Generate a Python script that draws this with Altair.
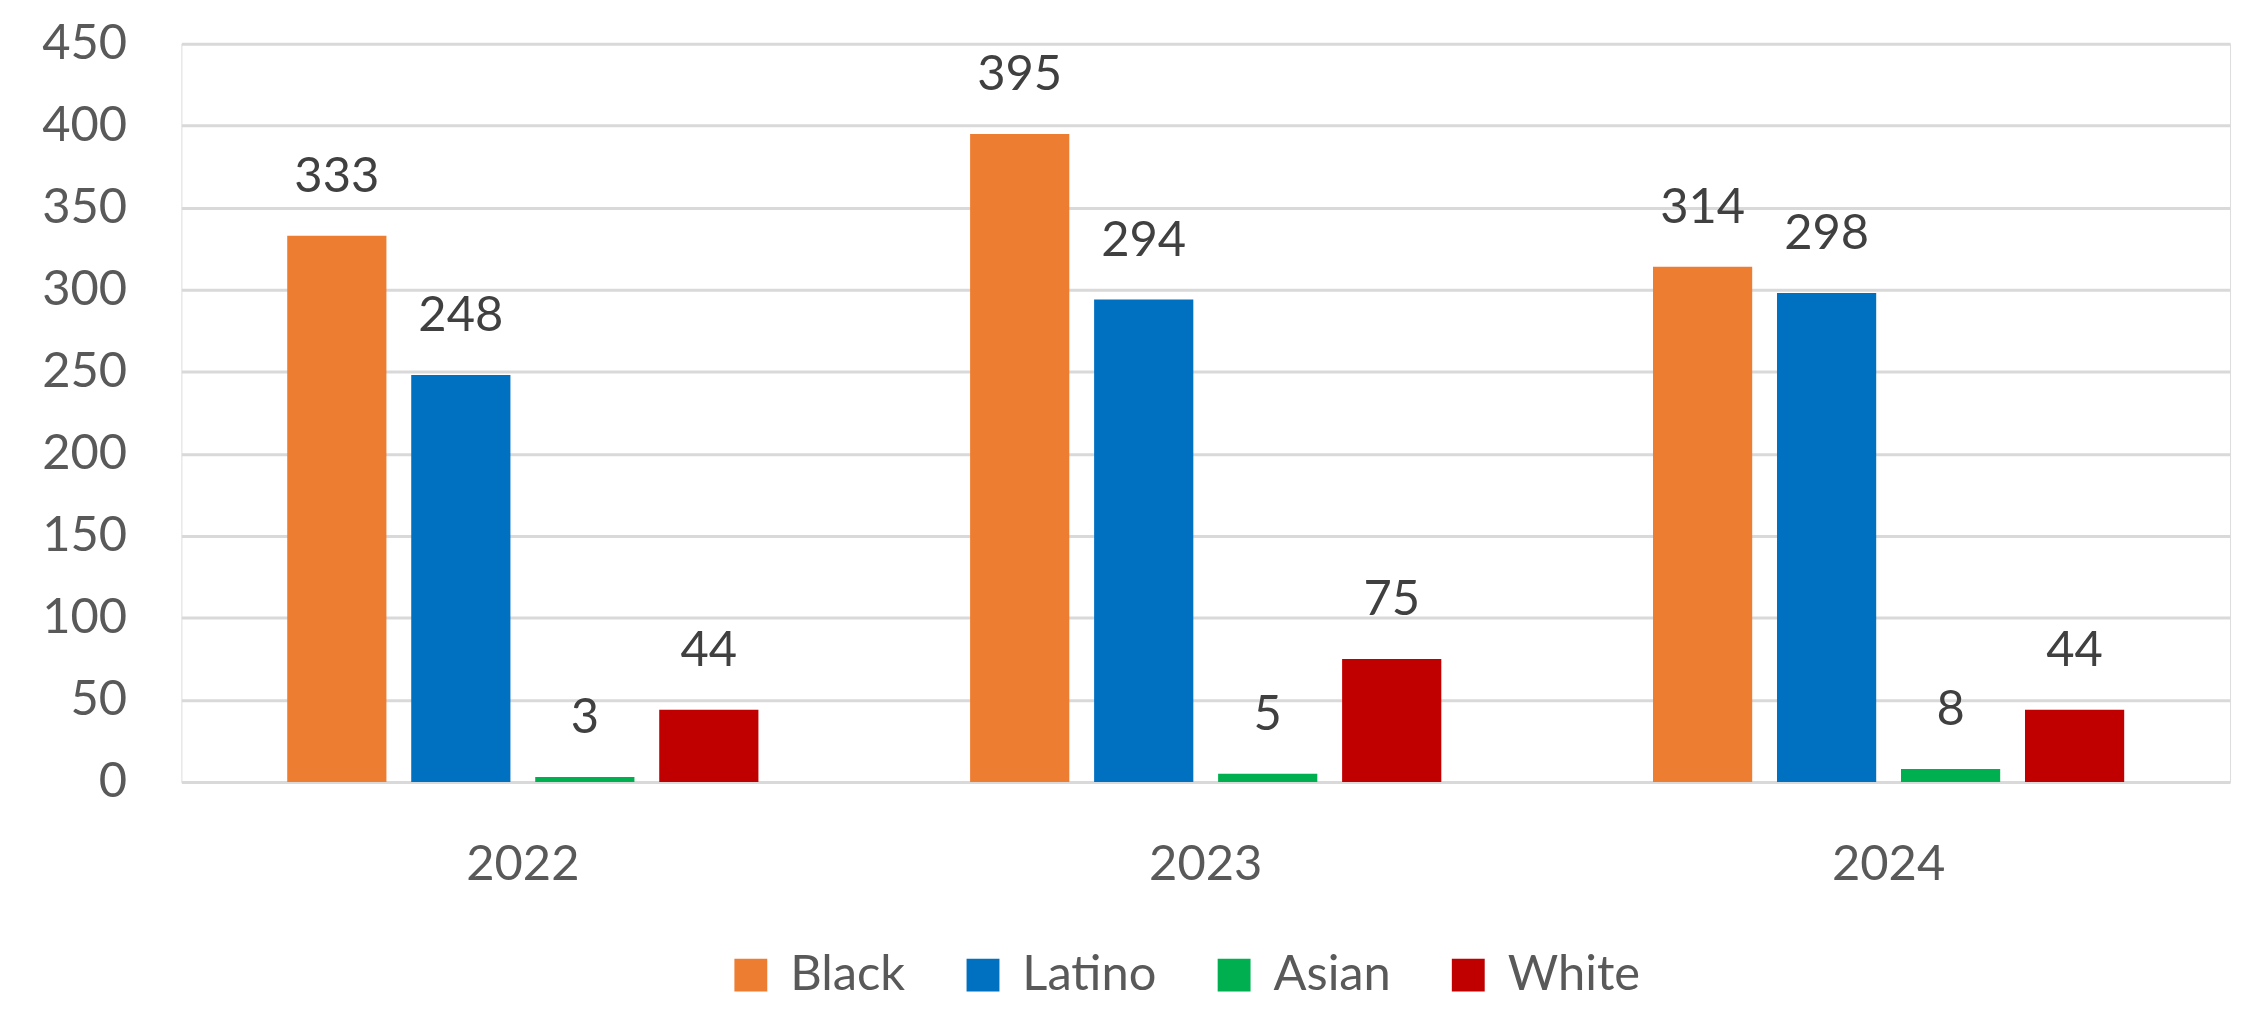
import altair as alt
import pandas as pd

years = ["2022", "2023", "2024"]
races = ["Black", "Latino", "Asian", "White"]
black = [333, 395, 314]
latino = [248, 294, 298]
asian = [3, 5, 8]
white = [44, 75, 44]
colors = ["#ED7D31", "#0070C0", "#00B050", "#C00000"]
y_ticks = [0, 50, 100, 150, 200, 250, 300, 350, 400, 450]

series = {"Black": black, "Latino": latino, "Asian": asian, "White": white}
rows = []
for r in races:
    for i, yr in enumerate(years):
        rows.append({"Year": yr, "Race": r, "Value": series[r][i]})
df = pd.DataFrame(rows)

FONT = "Lato"

base = alt.Chart(df).encode(
    x=alt.X(
        "Year:N",
        sort=years,
        scale=alt.Scale(paddingInner=0.31, paddingOuter=0.155),
        axis=alt.Axis(
            title=None, labelAngle=0, labelFont=FONT, labelFontSize=49,
            labelColor="#595959", labelPadding=59, ticks=False, domain=False,
            grid=False,
        ),
    ),
    xOffset=alt.XOffset("Race:N", sort=races,
                        scale=alt.Scale(paddingInner=0.2, paddingOuter=0)),
    y=alt.Y(
        "Value:Q",
        scale=alt.Scale(domain=[0, 450], nice=False),
        axis=alt.Axis(
            title=None, values=y_ticks, labelFont=FONT, labelFontSize=49,
            labelColor="#595959", labelPadding=55, ticks=False, domain=False,
            gridColor="#d9d9d9", gridWidth=3,
        ),
    ),
)

bars = base.mark_bar().encode(
    color=alt.Color(
        "Race:N",
        sort=races,
        scale=alt.Scale(domain=races, range=colors),
        legend=alt.Legend(
            title=None, orient="none", legendX=547, legendY=910,
            direction="horizontal", symbolType="square", symbolSize=1089,
            symbolStrokeWidth=0, symbolOpacity=1, labelFont=FONT,
            labelFontSize=49, labelColor="#595959", labelOffset=15,
            columnPadding=53, labelLimit=400,
        ),
    )
)

labels = base.mark_text(
    dy=-44, baseline="alphabetic", font=FONT, fontSize=49, color="#404040"
).encode(text="Value:Q")

chart = alt.layer(bars, labels).properties(
    width=2056,
    height=741,
    padding={"left": 174, "top": 34, "right": 11, "bottom": 220},
    autosize=alt.AutoSizeParams(type="none"),
).configure_view(stroke=None).configure(background="white")

chart.save("out.html", embed_options={"renderer": "svg", "actions": False})
